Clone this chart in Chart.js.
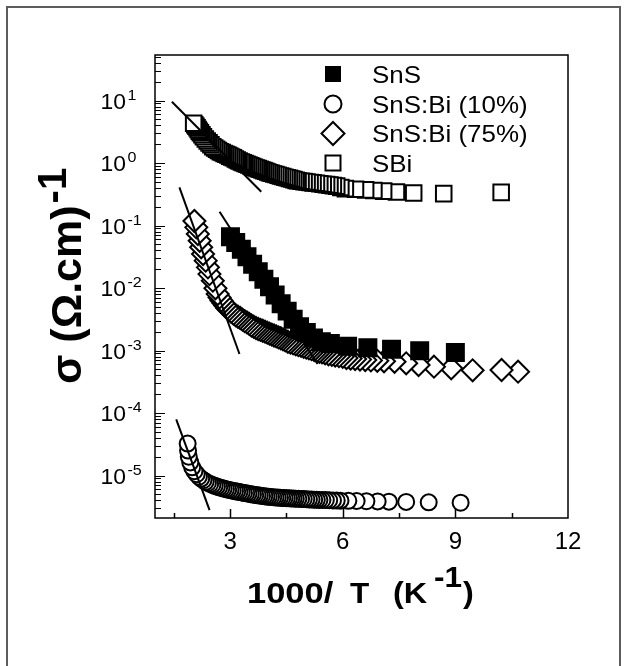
<!DOCTYPE html>
<html>
<head>
<meta charset="utf-8">
<script src="https://cdn.jsdelivr.net/npm/chart.js@4"></script>
<style>
  html, body { margin: 0; padding: 0; background: #fff; }
</style>
</head>
<body>
<canvas id="chart" width="627" height="666"></canvas>
<script>
// 1000/T (K^-1) and conductivity (Ohm.cm)^-1
const snsX = [3.01, 3.15, 3.30, 3.45, 3.60, 3.75, 3.90, 4.05, 4.20, 4.36, 4.52, 4.68, 4.85, 5.03, 5.22, 5.43, 5.67, 6.13, 6.67, 7.30, 8.05, 9.00];
const snsY = [0.0661, 0.0537, 0.0417, 0.0316, 0.0240, 0.0182, 0.0138, 0.0105, 0.00776, 0.00562, 0.00427, 0.00316, 0.00240, 0.00195, 0.00158, 0.00138, 0.00129, 0.00117, 0.00111, 0.00105, 0.000989, 0.000933];

const bi10X = [1.87, 1.88, 1.90, 1.94, 1.99, 2.05, 2.11, 2.17, 2.23, 2.29, 2.35, 2.41, 2.47, 2.53, 2.59, 2.65, 2.71, 2.77, 2.83, 2.89, 2.95,
  3.01, 3.07, 3.13, 3.19, 3.25, 3.31, 3.37, 3.43, 3.49, 3.55, 3.61, 3.67, 3.73, 3.79, 3.85, 3.91, 3.97, 4.03, 4.09, 4.15, 4.21, 4.27,
  4.33, 4.39, 4.45, 4.51, 4.57, 4.63, 4.69, 4.75, 4.82, 4.89, 4.96, 5.03, 5.10, 5.17, 5.24, 5.31, 5.38, 5.46, 5.55, 5.64, 5.74, 5.84,
  5.94, 6.15, 6.37, 6.63, 6.93, 7.23, 7.69, 8.29, 9.14];
const bi10Y = [3.24e-5, 2.51e-5, 2.00e-5, 1.62e-5, 1.35e-5, 1.17e-5, 1.05e-5, 9.55e-6, 8.91e-6, 8.41e-6, 7.94e-6, 7.59e-6, 7.33e-6, 7.08e-6,
  6.84e-6, 6.64e-6, 6.46e-6, 6.31e-6, 6.17e-6, 6.03e-6, 5.92e-6, 5.81e-6, 5.71e-6, 5.62e-6, 5.53e-6, 5.44e-6, 5.36e-6, 5.27e-6, 5.19e-6,
  5.11e-6, 5.02e-6, 4.95e-6, 4.89e-6, 4.83e-6, 4.78e-6, 4.72e-6, 4.67e-6, 4.61e-6, 4.57e-6, 4.53e-6, 4.49e-6, 4.46e-6, 4.43e-6, 4.40e-6,
  4.37e-6, 4.35e-6, 4.33e-6, 4.31e-6, 4.29e-6, 4.27e-6, 4.25e-6, 4.23e-6, 4.21e-6, 4.19e-6, 4.17e-6, 4.15e-6, 4.13e-6, 4.11e-6, 4.09e-6,
  4.07e-6, 4.06e-6, 4.04e-6, 4.02e-6, 4.00e-6, 3.98e-6, 3.96e-6, 3.94e-6, 3.91e-6, 3.88e-6, 3.85e-6, 3.82e-6, 3.78e-6, 3.72e-6, 3.67e-6];

const bi75X = [2.05, 2.10, 2.14, 2.19, 2.23, 2.28, 2.35, 2.41, 2.45, 2.54, 2.61, 2.67, 2.72, 2.77, 2.82, 2.87, 2.92, 2.97, 3.03, 3.09,
  3.15, 3.21, 3.27, 3.33, 3.39, 3.45, 3.51, 3.57, 3.63, 3.69, 3.75, 3.81, 3.87, 3.93, 3.99, 4.05, 4.11, 4.17, 4.23, 4.29, 4.35, 4.41,
  4.47, 4.54, 4.61, 4.68, 4.75, 4.82, 4.89, 4.96, 5.03, 5.10, 5.17, 5.24, 5.31, 5.38, 5.45, 5.53, 5.62, 5.71, 5.80, 5.90, 6.00, 6.10,
  6.21, 6.33, 6.46, 6.60, 6.75, 6.92, 7.10, 7.38, 7.69, 8.02, 8.43, 8.89, 9.46, 10.23, 10.67];
const bi75Y = [0.118, 0.0935, 0.0731, 0.0571, 0.0448, 0.0350, 0.0274, 0.0214, 0.0167, 0.0131, 0.00989, 0.00802, 0.00708, 0.00631,
  0.00575, 0.00525, 0.00479, 0.00447, 0.00417, 0.00389, 0.00367, 0.00347, 0.00331, 0.00313, 0.00295, 0.00282, 0.00266, 0.00251,
  0.00240, 0.00229, 0.00221, 0.00214, 0.00207, 0.00200, 0.00193, 0.00186, 0.00180, 0.00174, 0.00168, 0.00162, 0.00157, 0.00151,
  0.00145, 0.00138, 0.00134, 0.00130, 0.00126, 0.00122, 0.00119, 0.00115, 0.00111, 0.00108, 0.00105, 0.00102, 0.000986, 0.000955,
  0.000933, 0.000902, 0.000871, 0.000851, 0.000832, 0.000813, 0.000794, 0.000759, 0.000745, 0.000731, 0.000718, 0.000705, 0.000695,
  0.000684, 0.000673, 0.000661, 0.000624, 0.000586, 0.000551, 0.000519, 0.000482, 0.000488, 0.000458];

const sbiX = [2.03, 2.06, 2.09, 2.12, 2.15, 2.18, 2.21, 2.25, 2.29, 2.34, 2.39, 2.44, 2.49, 2.54, 2.59, 2.64, 2.69, 2.74, 2.79, 2.84,
  2.89, 2.94, 2.99, 3.04, 3.09, 3.14, 3.19, 3.24, 3.30, 3.35, 3.40, 3.45, 3.50, 3.55, 3.60, 3.65, 3.70, 3.75, 3.80, 3.85, 3.90, 3.95,
  4.00, 4.05, 4.10, 4.16, 4.22, 4.28, 4.34, 4.40, 4.46, 4.52, 4.58, 4.64, 4.70, 4.76, 4.81, 4.89, 4.97, 5.05, 5.13, 5.21, 5.30, 5.39,
  5.48, 5.57, 5.66, 5.75, 5.84, 5.95, 6.07, 6.34, 6.61, 6.83, 7.09, 7.43, 7.89, 8.69, 10.22];
const sbiY = [4.32, 4.09, 3.88, 3.66, 3.44, 3.23, 3.04, 2.83, 2.64, 2.42, 2.25, 2.10, 1.96, 1.82, 1.74, 1.66, 1.59, 1.52, 1.47, 1.42,
  1.38, 1.34, 1.29, 1.25, 1.21, 1.16, 1.12, 1.08, 1.04, 1.01, 0.98, 0.955, 0.927, 0.902, 0.877, 0.853, 0.832, 0.813, 0.793, 0.773,
  0.755, 0.736, 0.718, 0.701, 0.684, 0.668, 0.653, 0.637, 0.622, 0.608, 0.594, 0.581, 0.568, 0.555, 0.542, 0.528, 0.519, 0.511,
  0.504, 0.496, 0.489, 0.481, 0.473, 0.465, 0.458, 0.451, 0.443, 0.435, 0.427, 0.407, 0.389, 0.380, 0.372, 0.363, 0.355, 0.343,
  0.331, 0.324, 0.339];

// straight-line fits (end points)
const fitSbiX = [1.45, 3.83], fitSbiY = [9.57, 0.347];
const fitBi75X = [1.65, 3.25], fitBi75Y = [0.408, 8.79e-4];
const fitSnsX = [2.72, 5.33], fitSnsY = [0.166, 6.08e-4];
const fitBi10X = [1.565, 2.453], fitBi10Y = [7.93e-5, 2.8e-6];

const xTickMarks = [1.5, 3, 4.5, 6, 7.5, 9, 10.5];
const xTickLabels = [3, 6, 9, 12];
const yDecades = [1, 0, -1, -2, -3, -4, -5];
const legendNames = ['SnS', 'SnS:Bi (10%)', 'SnS:Bi (75%)', 'SBi'];

const FONT = '"Liberation Sans", Arial, sans-serif';

function pts(xs, ys) {
  return xs.map((v, i) => ({ x: v, y: ys[i] }));
}

// points listed by rising 1000/T, drawn from the cold end so left markers sit on top
function series(label, xs, ys, style, radius, fill) {
  return {
    type: 'scatter', label, data: pts(xs, ys).reverse(), order: 1,
    pointStyle: style, pointRadius: radius, pointHoverRadius: radius,
    pointBackgroundColor: fill, pointBorderColor: '#000', pointBorderWidth: 2
  };
}

function fitLine(xs, ys) {
  return {
    type: 'line', data: pts(xs, ys), order: 0,
    borderColor: '#000', borderWidth: 2, pointRadius: 0, fill: false
  };
}

function txt(ctx, s, x, y, size, o = {}) {
  ctx.save();
  ctx.font = (o.bold ? 'bold ' : '') + size + 'px ' + FONT;
  ctx.fillStyle = '#000';
  ctx.textAlign = o.align || 'left';
  ctx.textBaseline = 'alphabetic';
  ctx.translate(x, y);
  ctx.scale(o.sx || 1, 1);
  ctx.fillText(s, 0, 0);
  const w = ctx.measureText(s).width * (o.sx || 1);
  ctx.restore();
  return w;
}

const decor = {
  id: 'decor',
  afterDraw(chart) {
    const { ctx, chartArea: a, scales: { x, y } } = chart;
    ctx.save();

    // outer frame of the figure
    ctx.strokeStyle = '#5c5c5c';
    ctx.lineWidth = 2;
    ctx.beginPath();
    ctx.moveTo(7, 666); ctx.lineTo(7, 7); ctx.lineTo(620, 7); ctx.lineTo(620, 666);
    ctx.stroke();

    // plot box
    ctx.strokeStyle = '#000';
    ctx.lineWidth = 1.5;
    ctx.strokeRect(a.left, a.top, a.right - a.left, a.bottom - a.top);

    // inward ticks on the log axis
    ctx.lineWidth = 1;
    for (let e = -6; e <= 1; e++) {
      for (let m = 1; m <= 9; m++) {
        const v = m * Math.pow(10, e);
        if (v < y.min || v > y.max) continue;
        const py = Math.round(y.getPixelForValue(v)) + 0.5;
        ctx.beginPath();
        ctx.moveTo(a.left, py);
        ctx.lineTo(a.left + (m === 1 ? 10 : 6), py);
        ctx.stroke();
      }
    }
    // inward ticks on the bottom axis
    ctx.lineWidth = 1.5;
    xTickMarks.forEach(v => {
      const px = Math.round(x.getPixelForValue(v)) + 0.5;
      ctx.beginPath();
      ctx.moveTo(px, a.bottom);
      ctx.lineTo(px, a.bottom - (v % 3 === 0 ? 9 : 5));
      ctx.stroke();
    });
    ctx.restore();

    // tick labels
    yDecades.forEach(e => {
      const py = y.getPixelForValue(Math.pow(10, e));
      txt(ctx, '10', 126, py + 8, 22, { align: 'right', sx: 1.04 });
      txt(ctx, String(e), 127.5, py - 1, 15, { sx: 1.07 });
    });
    xTickLabels.forEach(v => {
      txt(ctx, String(v), x.getPixelForValue(v), 549, 24, { align: 'center' });
    });

    // axis titles
    txt(ctx, '1000/', 247, 603, 30, { bold: true, sx: 1.15 });
    txt(ctx, 'T', 350, 603, 30, { bold: true, sx: 1.05 });
    txt(ctx, '(K', 393, 603, 30, { bold: true, sx: 1.08 });
    txt(ctx, '-1', 434, 587, 30, { bold: true, sx: 1.05 });
    txt(ctx, ')', 463, 603, 30, { bold: true, sx: 1.08 });

    ctx.save();
    ctx.translate(81, 384);
    ctx.rotate(-Math.PI / 2);
    const w = txt(ctx, 'σ (Ω.cm)', 0, 0, 43, { bold: true });
    txt(ctx, '-1', w + 2, -15, 40, { bold: true });
    ctx.restore();

    // legend
    const lx = 333, rows = [74, 104, 133.5, 163];
    ctx.save();
    ctx.lineWidth = 2;
    ctx.strokeStyle = '#000';
    ctx.fillStyle = '#000';
    ctx.fillRect(lx - 8, rows[0] - 8, 16, 16);
    ctx.fillStyle = '#fff';
    ctx.beginPath(); ctx.arc(lx, rows[1], 8.5, 0, Math.PI * 2); ctx.fill(); ctx.stroke();
    ctx.beginPath();
    ctx.moveTo(lx, rows[2] - 11.5); ctx.lineTo(lx + 11.5, rows[2]);
    ctx.lineTo(lx, rows[2] + 11.5); ctx.lineTo(lx - 11.5, rows[2]); ctx.closePath();
    ctx.fill(); ctx.stroke();
    ctx.strokeRect(lx - 7.5, rows[3] - 7.5, 15, 15);
    ctx.restore();
    legendNames.forEach((n, i) => txt(ctx, n, 372, rows[i] + 8.5, 24, { sx: 1.08 }));
  }
};

new Chart(document.getElementById('chart'), {
  type: 'scatter',
  data: {
    datasets: [
      series(legendNames[0], snsX, snsY, 'rect', 12, '#000'),
      series(legendNames[1], bi10X, bi10Y, 'circle', 8, '#fff'),
      series(legendNames[2], bi75X, bi75Y, 'rectRot', 11, '#fff'),
      series(legendNames[3], sbiX, sbiY, 'rect', 11, '#fff'),
      fitLine(fitSbiX, fitSbiY),
      fitLine(fitBi75X, fitBi75Y),
      fitLine(fitSnsX, fitSnsY),
      fitLine(fitBi10X, fitBi10Y)
    ]
  },
  options: {
    responsive: false,
    animation: false,
    events: [],
    layout: { padding: { left: 0, right: 59, top: 55, bottom: 0 }, autoPadding: false },
    plugins: { legend: { display: false }, tooltip: { enabled: false } },
    scales: {
      x: {
        type: 'linear', min: 1, max: 12,
        ticks: { display: false, stepSize: 1.5 },
        grid: { display: false }, border: { display: false },
        afterFit: s => { s.height = 148; }
      },
      y: {
        type: 'logarithmic', min: 2.09e-6, max: 53.5,
        ticks: { display: false },
        grid: { display: false }, border: { display: false },
        afterFit: s => { s.width = 155; }
      }
    }
  },
  plugins: [decor]
});
</script>
</body>
</html>
